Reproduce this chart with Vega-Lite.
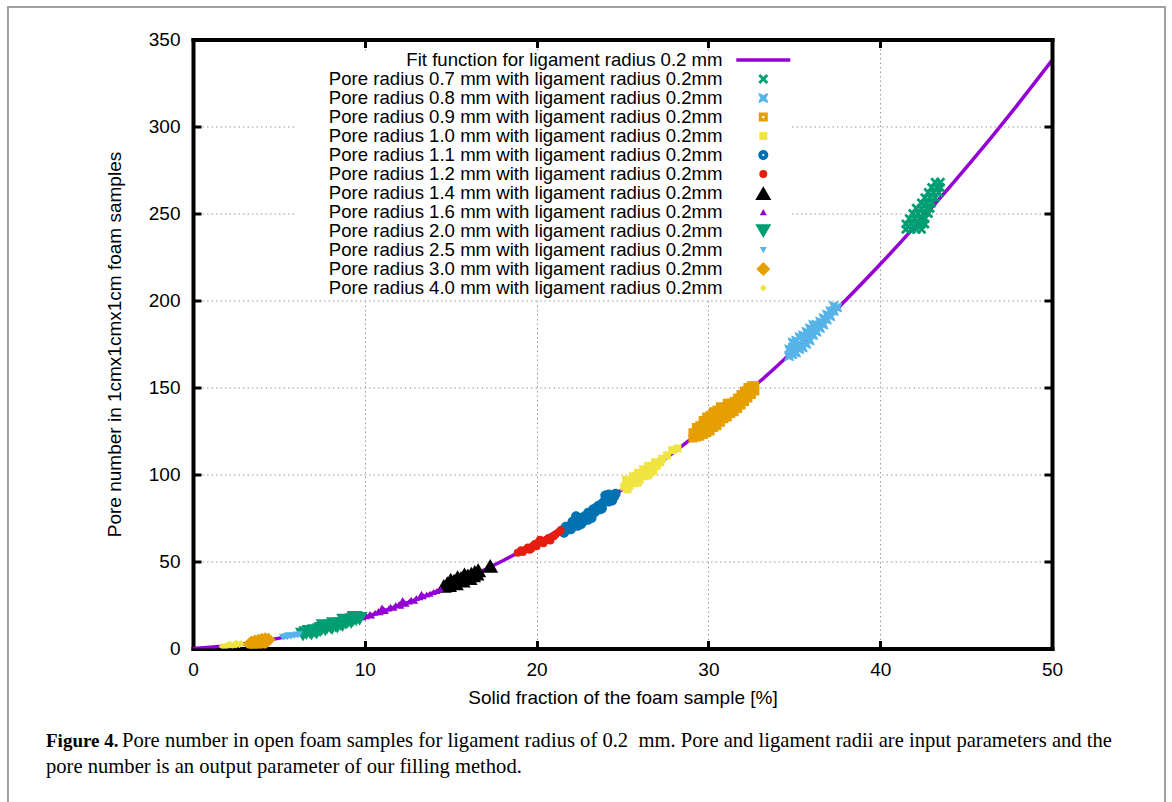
{
  "$schema": "https://vega.github.io/schema/vega-lite/v6.json",
  "width": 859,
  "height": 609,
  "padding": {"left": 193, "top": 39.5, "right": 120, "bottom": 153.5},
  "autosize": {"type": "none"},
  "background": "white",
  "config": {"view": {"stroke": null}, "font": "Liberation Sans"},
  "resolve": {"axis": {"x": "independent", "y": "independent"}},
  "layer": [
    {
      "data": {"values": [{"frame": "outer"}]},
      "mark": {"type": "rect", "filled": false, "fill": null, "stroke": "#a0a0a0", "strokeWidth": 2},
      "encoding": {
        "x": {"datum": -10.77, "type": "quantitative", "scale": {"domain": [0, 50], "nice": false}, "axis": null},
        "x2": {"datum": 56.58},
        "y": {"datum": 368.7, "type": "quantitative", "scale": {"domain": [0, 350], "nice": false}, "axis": null},
        "y2": {"datum": -100}
      }
    },
    {
      "data": {"values": [
        {"x": 0, "y": 0}, {"x": 2, "y": 1.62}, {"x": 4, "y": 4.22}, {"x": 6, "y": 7.82}, {"x": 8, "y": 12.42},
        {"x": 10, "y": 18.0}, {"x": 12, "y": 24.58}, {"x": 14, "y": 32.14}, {"x": 16, "y": 40.7}, {"x": 18, "y": 50.26},
        {"x": 20, "y": 60.8}, {"x": 22, "y": 72.34}, {"x": 24, "y": 84.86}, {"x": 26, "y": 98.38}, {"x": 28, "y": 112.9},
        {"x": 30, "y": 128.4}, {"x": 32, "y": 144.9}, {"x": 34, "y": 162.4}, {"x": 36, "y": 180.9}, {"x": 38, "y": 200.3},
        {"x": 40, "y": 220.8}, {"x": 42, "y": 242.3}, {"x": 44, "y": 264.7}, {"x": 46, "y": 288.1}, {"x": 48, "y": 312.6},
        {"x": 50, "y": 338.0}
      ]},
      "mark": {"type": "line", "stroke": "#9400d3", "strokeWidth": 3.5, "clip": true, "interpolate": "monotone"},
      "encoding": {
        "x": {"field": "x", "type": "quantitative", "scale": {"domain": [0, 50], "nice": false},
          "axis": {"orient": "bottom", "values": [0, 10, 20, 30, 40, 50], "format": "d",
            "title": "Solid fraction of the foam sample [%]",
            "grid": true, "gridColor": "#999999", "gridDash": [1.5, 3], "gridWidth": 1,
            "domainColor": "black", "domainWidth": 4, "domainCap": "square",
            "tickColor": "black", "tickWidth": 3, "tickSize": -8,
            "labelFont": "Liberation Sans", "labelFontSize": 19, "labelColor": "black", "labelPadding": 20, "labelFlush": false,
            "titleFont": "Liberation Sans", "titleFontSize": 19, "titleFontWeight": "normal", "titleColor": "black", "titlePadding": 9}},
        "y": {"field": "y", "type": "quantitative", "scale": {"domain": [0, 350], "nice": false},
          "axis": {"orient": "left", "values": [0, 50, 100, 150, 200, 250, 300, 350], "format": "d",
            "title": "Pore number in 1cmx1cmx1cm foam samples",
            "grid": true, "gridColor": "#999999", "gridDash": [1.5, 3], "gridWidth": 1,
            "domainColor": "black", "domainWidth": 4, "domainCap": "square",
            "tickColor": "black", "tickWidth": 3, "tickSize": -8,
            "labelFont": "Liberation Sans", "labelFontSize": 19, "labelColor": "black", "labelPadding": 21, "labelFlush": false,
            "titleFont": "Liberation Sans", "titleFontSize": 19, "titleFontWeight": "normal", "titleColor": "black", "titlePadding": 24}}
      }
    },
    {
      "data": {"values": [
        {"s": "0.7", "x": 41.5, "y": 241}, {"s": "0.7", "x": 41.8, "y": 241}, {"s": "0.7", "x": 42.1, "y": 241}, {"s": "0.7", "x": 42.4, "y": 241},
        {"s": "0.7", "x": 41.5, "y": 244}, {"s": "0.7", "x": 41.8, "y": 244}, {"s": "0.7", "x": 42.1, "y": 244}, {"s": "0.7", "x": 42.4, "y": 244}, {"s": "0.7", "x": 42.6, "y": 244},
        {"s": "0.7", "x": 41.7, "y": 247}, {"s": "0.7", "x": 42.0, "y": 247}, {"s": "0.7", "x": 42.3, "y": 247}, {"s": "0.7", "x": 42.6, "y": 247},
        {"s": "0.7", "x": 41.9, "y": 250}, {"s": "0.7", "x": 42.2, "y": 250}, {"s": "0.7", "x": 42.5, "y": 250}, {"s": "0.7", "x": 42.8, "y": 250},
        {"s": "0.7", "x": 42.1, "y": 253}, {"s": "0.7", "x": 42.4, "y": 253}, {"s": "0.7", "x": 42.7, "y": 253}, {"s": "0.7", "x": 42.9, "y": 253},
        {"s": "0.7", "x": 42.4, "y": 256}, {"s": "0.7", "x": 42.7, "y": 256}, {"s": "0.7", "x": 43.0, "y": 256},
        {"s": "0.7", "x": 42.6, "y": 259}, {"s": "0.7", "x": 42.9, "y": 259}, {"s": "0.7", "x": 43.2, "y": 259},
        {"s": "0.7", "x": 42.8, "y": 262}, {"s": "0.7", "x": 43.1, "y": 262}, {"s": "0.7", "x": 43.4, "y": 262},
        {"s": "0.7", "x": 43.0, "y": 265}, {"s": "0.7", "x": 43.3, "y": 265}, {"s": "0.7", "x": 43.5, "y": 265},
        {"s": "0.7", "x": 43.2, "y": 268}, {"s": "0.7", "x": 43.5, "y": 268},
        {"s": "0.8", "x": 34.7, "y": 168}, {"s": "0.8", "x": 34.7, "y": 172}, {"s": "0.8", "x": 34.9, "y": 169}, {"s": "0.8", "x": 34.9, "y": 173},
        {"s": "0.8", "x": 34.9, "y": 176}, {"s": "0.8", "x": 35.1, "y": 170}, {"s": "0.8", "x": 35.1, "y": 174}, {"s": "0.8", "x": 35.1, "y": 177},
        {"s": "0.8", "x": 35.3, "y": 172}, {"s": "0.8", "x": 35.3, "y": 175}, {"s": "0.8", "x": 35.3, "y": 179}, {"s": "0.8", "x": 35.5, "y": 173},
        {"s": "0.8", "x": 35.5, "y": 177}, {"s": "0.8", "x": 35.5, "y": 180}, {"s": "0.8", "x": 35.7, "y": 175}, {"s": "0.8", "x": 35.7, "y": 179},
        {"s": "0.8", "x": 35.7, "y": 182}, {"s": "0.8", "x": 35.9, "y": 177}, {"s": "0.8", "x": 35.9, "y": 181}, {"s": "0.8", "x": 35.9, "y": 184},
        {"s": "0.8", "x": 36.1, "y": 180}, {"s": "0.8", "x": 36.1, "y": 183}, {"s": "0.8", "x": 36.1, "y": 186}, {"s": "0.8", "x": 36.3, "y": 182},
        {"s": "0.8", "x": 36.3, "y": 186}, {"s": "0.8", "x": 36.5, "y": 184}, {"s": "0.8", "x": 36.5, "y": 188}, {"s": "0.8", "x": 36.7, "y": 186},
        {"s": "0.8", "x": 36.7, "y": 190}, {"s": "0.8", "x": 36.9, "y": 189}, {"s": "0.8", "x": 36.9, "y": 192}, {"s": "0.8", "x": 37.1, "y": 191},
        {"s": "0.8", "x": 37.1, "y": 194}, {"s": "0.8", "x": 37.3, "y": 194}, {"s": "0.8", "x": 37.3, "y": 197}, {"s": "0.8", "x": 37.5, "y": 196},
        {"s": "0.9", "x": 29.1, "y": 121}, {"s": "0.9", "x": 29.1, "y": 124}, {"s": "0.9", "x": 29.3, "y": 121.5}, {"s": "0.9", "x": 29.3, "y": 124.5},
        {"s": "0.9", "x": 29.3, "y": 127}, {"s": "0.9", "x": 29.5, "y": 122}, {"s": "0.9", "x": 29.5, "y": 125}, {"s": "0.9", "x": 29.5, "y": 128},
        {"s": "0.9", "x": 29.7, "y": 123}, {"s": "0.9", "x": 29.7, "y": 126}, {"s": "0.9", "x": 29.7, "y": 129}, {"s": "0.9", "x": 29.7, "y": 131},
        {"s": "0.9", "x": 29.9, "y": 124}, {"s": "0.9", "x": 29.9, "y": 127}, {"s": "0.9", "x": 29.9, "y": 130}, {"s": "0.9", "x": 29.9, "y": 133},
        {"s": "0.9", "x": 30.1, "y": 125}, {"s": "0.9", "x": 30.1, "y": 128}, {"s": "0.9", "x": 30.1, "y": 131}, {"s": "0.9", "x": 30.1, "y": 134},
        {"s": "0.9", "x": 30.3, "y": 127}, {"s": "0.9", "x": 30.3, "y": 130}, {"s": "0.9", "x": 30.3, "y": 133}, {"s": "0.9", "x": 30.3, "y": 136},
        {"s": "0.9", "x": 30.5, "y": 128}, {"s": "0.9", "x": 30.5, "y": 131}, {"s": "0.9", "x": 30.5, "y": 134}, {"s": "0.9", "x": 30.5, "y": 137},
        {"s": "0.9", "x": 30.7, "y": 130}, {"s": "0.9", "x": 30.7, "y": 133}, {"s": "0.9", "x": 30.7, "y": 136}, {"s": "0.9", "x": 30.7, "y": 139},
        {"s": "0.9", "x": 30.9, "y": 132}, {"s": "0.9", "x": 30.9, "y": 135}, {"s": "0.9", "x": 30.9, "y": 138}, {"s": "0.9", "x": 31.1, "y": 133},
        {"s": "0.9", "x": 31.1, "y": 136}, {"s": "0.9", "x": 31.1, "y": 139}, {"s": "0.9", "x": 31.1, "y": 141}, {"s": "0.9", "x": 31.3, "y": 135},
        {"s": "0.9", "x": 31.3, "y": 138}, {"s": "0.9", "x": 31.3, "y": 141}, {"s": "0.9", "x": 31.5, "y": 136}, {"s": "0.9", "x": 31.5, "y": 139},
        {"s": "0.9", "x": 31.5, "y": 142}, {"s": "0.9", "x": 31.7, "y": 138}, {"s": "0.9", "x": 31.7, "y": 141}, {"s": "0.9", "x": 31.7, "y": 144},
        {"s": "0.9", "x": 31.9, "y": 140}, {"s": "0.9", "x": 31.9, "y": 143}, {"s": "0.9", "x": 31.9, "y": 146}, {"s": "0.9", "x": 32.1, "y": 142},
        {"s": "0.9", "x": 32.1, "y": 145}, {"s": "0.9", "x": 32.1, "y": 148}, {"s": "0.9", "x": 32.3, "y": 144}, {"s": "0.9", "x": 32.3, "y": 147},
        {"s": "0.9", "x": 32.3, "y": 150}, {"s": "0.9", "x": 32.5, "y": 146}, {"s": "0.9", "x": 32.5, "y": 149}, {"s": "0.9", "x": 32.5, "y": 151},
        {"s": "0.9", "x": 32.7, "y": 148}, {"s": "0.9", "x": 32.7, "y": 151},
        {"s": "1.0", "x": 25.1, "y": 93}, {"s": "1.0", "x": 25.3, "y": 95}, {"s": "1.0", "x": 25.2, "y": 97}, {"s": "1.0", "x": 25.5, "y": 96},
        {"s": "1.0", "x": 25.6, "y": 99}, {"s": "1.0", "x": 25.8, "y": 98}, {"s": "1.0", "x": 25.9, "y": 101}, {"s": "1.0", "x": 26.1, "y": 100},
        {"s": "1.0", "x": 26.2, "y": 103}, {"s": "1.0", "x": 26.4, "y": 102}, {"s": "1.0", "x": 26.5, "y": 105}, {"s": "1.0", "x": 26.7, "y": 104},
        {"s": "1.0", "x": 26.9, "y": 107}, {"s": "1.0", "x": 27.3, "y": 109}, {"s": "1.0", "x": 27.9, "y": 114}, {"s": "1.0", "x": 28.2, "y": 115},
        {"s": "1.0", "x": 25.4, "y": 93.5}, {"s": "1.0", "x": 26.0, "y": 97}, {"s": "1.0", "x": 26.6, "y": 101},
        {"s": "1.0", "x": 25.3, "y": 91.5}, {"s": "1.0", "x": 25.7, "y": 95}, {"s": "1.0", "x": 26.3, "y": 99}, {"s": "1.0", "x": 26.8, "y": 102},
        {"s": "1.0", "x": 27.0, "y": 105}, {"s": "1.0", "x": 27.2, "y": 107}, {"s": "1.0", "x": 25.9, "y": 95.5}, {"s": "1.0", "x": 26.5, "y": 99.5},
        {"s": "1.0", "x": 27.6, "y": 111},
        {"s": "1.1", "x": 21.5, "y": 68}, {"s": "1.1", "x": 21.7, "y": 70}, {"s": "1.1", "x": 21.8, "y": 68.5}, {"s": "1.1", "x": 22.0, "y": 71},
        {"s": "1.1", "x": 22.1, "y": 73}, {"s": "1.1", "x": 22.2, "y": 71.5}, {"s": "1.1", "x": 22.4, "y": 74}, {"s": "1.1", "x": 22.5, "y": 72.5},
        {"s": "1.1", "x": 22.6, "y": 75}, {"s": "1.1", "x": 22.8, "y": 76}, {"s": "1.1", "x": 22.9, "y": 74.5}, {"s": "1.1", "x": 23.0, "y": 78},
        {"s": "1.1", "x": 23.1, "y": 77}, {"s": "1.1", "x": 23.3, "y": 80}, {"s": "1.1", "x": 23.4, "y": 78.5}, {"s": "1.1", "x": 23.5, "y": 81},
        {"s": "1.1", "x": 23.7, "y": 80}, {"s": "1.1", "x": 23.8, "y": 83}, {"s": "1.1", "x": 23.9, "y": 84}, {"s": "1.1", "x": 24.0, "y": 85},
        {"s": "1.1", "x": 24.1, "y": 86.5}, {"s": "1.1", "x": 24.2, "y": 84.5}, {"s": "1.1", "x": 24.3, "y": 87}, {"s": "1.1", "x": 24.4, "y": 88},
        {"s": "1.1", "x": 24.5, "y": 87}, {"s": "1.1", "x": 24.2, "y": 88.5}, {"s": "1.1", "x": 22.3, "y": 76}, {"s": "1.1", "x": 22.7, "y": 73},
        {"s": "1.1", "x": 23.2, "y": 76.5}, {"s": "1.1", "x": 23.6, "y": 82},
        {"s": "1.1", "x": 21.6, "y": 66.5}, {"s": "1.1", "x": 22.0, "y": 68.5}, {"s": "1.1", "x": 22.6, "y": 71.5}, {"s": "1.1", "x": 23.2, "y": 75},
        {"s": "1.1", "x": 23.8, "y": 80.5}, {"s": "1.1", "x": 24.4, "y": 85}, {"s": "1.1", "x": 24.6, "y": 89}, {"s": "1.1", "x": 24.0, "y": 88},
        {"s": "1.1", "x": 22.4, "y": 70.5}, {"s": "1.1", "x": 23.0, "y": 74},
        {"s": "1.2", "x": 18.9, "y": 55}, {"s": "1.2", "x": 19.1, "y": 56.5}, {"s": "1.2", "x": 19.2, "y": 55.5}, {"s": "1.2", "x": 19.4, "y": 57},
        {"s": "1.2", "x": 19.5, "y": 58}, {"s": "1.2", "x": 19.6, "y": 56.8}, {"s": "1.2", "x": 19.8, "y": 59}, {"s": "1.2", "x": 19.9, "y": 60},
        {"s": "1.2", "x": 20.0, "y": 58.8}, {"s": "1.2", "x": 20.1, "y": 61}, {"s": "1.2", "x": 20.3, "y": 61.5}, {"s": "1.2", "x": 20.4, "y": 60.5},
        {"s": "1.2", "x": 20.6, "y": 62.5}, {"s": "1.2", "x": 20.7, "y": 63.5}, {"s": "1.2", "x": 20.8, "y": 62}, {"s": "1.2", "x": 21.0, "y": 64.5},
        {"s": "1.2", "x": 21.1, "y": 65.5}, {"s": "1.2", "x": 21.3, "y": 67}, {"s": "1.2", "x": 21.4, "y": 68}, {"s": "1.2", "x": 20.2, "y": 62.5},
        {"s": "1.2", "x": 19.7, "y": 57.5},
        {"s": "1.4", "x": 14.6, "y": 36}, {"s": "1.4", "x": 14.8, "y": 37.5}, {"s": "1.4", "x": 14.9, "y": 36.5}, {"s": "1.4", "x": 15.1, "y": 38},
        {"s": "1.4", "x": 15.2, "y": 39}, {"s": "1.4", "x": 15.3, "y": 37.5}, {"s": "1.4", "x": 15.5, "y": 39.5}, {"s": "1.4", "x": 15.6, "y": 40.5},
        {"s": "1.4", "x": 15.7, "y": 39}, {"s": "1.4", "x": 15.9, "y": 41}, {"s": "1.4", "x": 16.0, "y": 42}, {"s": "1.4", "x": 16.1, "y": 40.5},
        {"s": "1.4", "x": 16.2, "y": 43}, {"s": "1.4", "x": 16.3, "y": 42}, {"s": "1.4", "x": 16.4, "y": 44}, {"s": "1.4", "x": 16.5, "y": 43},
        {"s": "1.4", "x": 16.6, "y": 45}, {"s": "1.4", "x": 17.3, "y": 47.5}, {"s": "1.4", "x": 15.4, "y": 41}, {"s": "1.4", "x": 15.8, "y": 42.5},
        {"s": "1.4", "x": 15.0, "y": 39.5},
        {"s": "1.6", "x": 9.9, "y": 18}, {"s": "1.6", "x": 10.1, "y": 18.5}, {"s": "1.6", "x": 10.3, "y": 19.8}, {"s": "1.6", "x": 10.4, "y": 19},
        {"s": "1.6", "x": 10.6, "y": 20.5}, {"s": "1.6", "x": 10.8, "y": 21.5}, {"s": "1.6", "x": 10.9, "y": 20.8}, {"s": "1.6", "x": 11.1, "y": 22.5},
        {"s": "1.6", "x": 11.2, "y": 21.5}, {"s": "1.6", "x": 11.4, "y": 23}, {"s": "1.6", "x": 11.5, "y": 24}, {"s": "1.6", "x": 11.7, "y": 23.5},
        {"s": "1.6", "x": 11.8, "y": 25}, {"s": "1.6", "x": 12.0, "y": 25.5}, {"s": "1.6", "x": 12.1, "y": 24.6}, {"s": "1.6", "x": 12.3, "y": 26.5},
        {"s": "1.6", "x": 12.4, "y": 25.8}, {"s": "1.6", "x": 12.6, "y": 27}, {"s": "1.6", "x": 12.7, "y": 28}, {"s": "1.6", "x": 12.9, "y": 27.5},
        {"s": "1.6", "x": 13.0, "y": 29}, {"s": "1.6", "x": 13.2, "y": 29.5}, {"s": "1.6", "x": 13.4, "y": 30}, {"s": "1.6", "x": 13.6, "y": 31},
        {"s": "1.6", "x": 13.8, "y": 31.5}, {"s": "1.6", "x": 14.0, "y": 32.5}, {"s": "1.6", "x": 14.2, "y": 33}, {"s": "1.6", "x": 14.4, "y": 34},
        {"s": "1.6", "x": 11.0, "y": 23.5}, {"s": "1.6", "x": 12.2, "y": 27.8}, {"s": "1.6", "x": 13.3, "y": 31.5},
        {"s": "2.0", "x": 6.4, "y": 8}, {"s": "2.0", "x": 6.6, "y": 8.8}, {"s": "2.0", "x": 6.8, "y": 9.5}, {"s": "2.0", "x": 6.9, "y": 8.6},
        {"s": "2.0", "x": 7.1, "y": 10}, {"s": "2.0", "x": 7.2, "y": 9.2}, {"s": "2.0", "x": 7.4, "y": 10.5}, {"s": "2.0", "x": 7.5, "y": 11.3},
        {"s": "2.0", "x": 7.7, "y": 11}, {"s": "2.0", "x": 7.8, "y": 12}, {"s": "2.0", "x": 8.0, "y": 12.5}, {"s": "2.0", "x": 8.1, "y": 11.8},
        {"s": "2.0", "x": 8.3, "y": 13.2}, {"s": "2.0", "x": 8.4, "y": 12.6}, {"s": "2.0", "x": 8.6, "y": 14}, {"s": "2.0", "x": 8.7, "y": 13.5},
        {"s": "2.0", "x": 8.9, "y": 14.8}, {"s": "2.0", "x": 9.0, "y": 15.5}, {"s": "2.0", "x": 9.2, "y": 15.2}, {"s": "2.0", "x": 9.3, "y": 16.3},
        {"s": "2.0", "x": 9.5, "y": 16.8}, {"s": "2.0", "x": 9.7, "y": 17}, {"s": "2.0", "x": 8.2, "y": 14}, {"s": "2.0", "x": 7.6, "y": 12.8},
        {"s": "2.0", "x": 8.8, "y": 16}, {"s": "2.0", "x": 9.4, "y": 17.5},
        {"s": "2.5", "x": 5.3, "y": 6.2}, {"s": "2.5", "x": 5.4, "y": 7}, {"s": "2.5", "x": 5.5, "y": 6.5}, {"s": "2.5", "x": 5.6, "y": 7.3},
        {"s": "2.5", "x": 5.7, "y": 6.8}, {"s": "2.5", "x": 5.8, "y": 7.6}, {"s": "2.5", "x": 5.9, "y": 7.2}, {"s": "2.5", "x": 6.0, "y": 8},
        {"s": "2.5", "x": 6.1, "y": 7.5}, {"s": "2.5", "x": 6.2, "y": 8.2}, {"s": "2.5", "x": 5.2, "y": 6.8}, {"s": "2.5", "x": 5.5, "y": 7.6},
        {"s": "3.0", "x": 3.3, "y": 2.5}, {"s": "3.0", "x": 3.4, "y": 3.5}, {"s": "3.0", "x": 3.5, "y": 2.8}, {"s": "3.0", "x": 3.6, "y": 4},
        {"s": "3.0", "x": 3.7, "y": 3.2}, {"s": "3.0", "x": 3.8, "y": 4.5}, {"s": "3.0", "x": 3.9, "y": 3.6}, {"s": "3.0", "x": 4.0, "y": 5},
        {"s": "3.0", "x": 4.1, "y": 4.2}, {"s": "3.0", "x": 4.2, "y": 5.3}, {"s": "3.0", "x": 4.3, "y": 4.6}, {"s": "3.0", "x": 4.4, "y": 5},
        {"s": "3.0", "x": 3.5, "y": 1.8}, {"s": "3.0", "x": 3.9, "y": 2.3}, {"s": "3.0", "x": 4.2, "y": 3.3},
        {"s": "4.0", "x": 1.7, "y": 1.2}, {"s": "4.0", "x": 1.9, "y": 1.6}, {"s": "4.0", "x": 2.0, "y": 1.1}, {"s": "4.0", "x": 2.2, "y": 2},
        {"s": "4.0", "x": 2.3, "y": 1.5}, {"s": "4.0", "x": 2.4, "y": 2.3}, {"s": "4.0", "x": 2.5, "y": 1.9}, {"s": "4.0", "x": 2.6, "y": 2.6},
        {"s": "4.0", "x": 2.7, "y": 2.2}, {"s": "4.0", "x": 2.8, "y": 2.8}, {"s": "4.0", "x": 2.1, "y": 2.6}, {"s": "4.0", "x": 2.5, "y": 3.0},
        {"s": "4.0", "x": 1.8, "y": 0.8}
      ]},
      "mark": {"type": "point", "filled": true, "opacity": 1, "strokeWidth": 0, "clip": true},
      "encoding": {
        "x": {"field": "x", "type": "quantitative", "scale": {"domain": [0, 50], "nice": false},
          "axis": {"orient": "top", "values": [0, 10, 20, 30, 40, 50], "labels": false, "grid": false, "title": null,
            "domainColor": "black", "domainWidth": 4, "domainCap": "square",
            "tickColor": "black", "tickWidth": 3, "tickSize": -8, "zindex": 1}},
        "y": {"field": "y", "type": "quantitative", "scale": {"domain": [0, 350], "nice": false},
          "axis": {"orient": "right", "values": [0, 50, 100, 150, 200, 250, 300, 350], "labels": false, "grid": false, "title": null,
            "domainColor": "black", "domainWidth": 4, "domainCap": "square",
            "tickColor": "black", "tickWidth": 3, "tickSize": -8, "zindex": 1}},
        "color": {"field": "s", "type": "nominal",
          "scale": {"domain": ["fit", "0.7", "0.8", "0.9", "1.0", "1.1", "1.2", "1.4", "1.6", "2.0", "2.5", "3.0", "4.0"],
            "range": ["#9400d3", "#009e73", "#56b4e9", "#e69f00", "#f0e442", "#0072b2", "#e51e10", "#000000", "#9400d3", "#009e73", "#56b4e9", "#e69f00", "#f0e442"]},
          "legend": {"title": null, "orient": "none", "legendX": 103, "legendY": 11.3,
            "labelExpr": "datum.label == 'fit' ? 'Fit function for ligament radius 0.2 mm' : 'Pore radius ' + datum.label + ' mm with ligament radius 0.2mm'",
            "labelAlign": "right", "labelOffset": -50, "symbolOffset": 458, "labelLimit": 1000,
            "labelFont": "Liberation Sans", "labelFontSize": 18.6, "labelColor": "black",
            "rowPadding": 0, "padding": 0, "fillColor": "white", "symbolStrokeWidth": 0, "symbolOpacity": 1}},
        "shape": {"field": "s", "type": "nominal",
          "scale": {"domain": ["fit", "0.7", "0.8", "0.9", "1.0", "1.1", "1.2", "1.4", "1.6", "2.0", "2.5", "3.0", "4.0"],
            "range": [
              "M-5.4,-0.35H5.4V0.35H-5.4Z",
              "M-1,-0.6L-0.6,-1L0,-0.4L0.6,-1L1,-0.6L0.4,0L1,0.6L0.6,1L0,0.4L-0.6,1L-1,0.6L-0.4,0Z",
              "M-1,-1L-0.35,-0.8L0,-0.55L0.35,-0.8L1,-1L0.8,-0.35L0.55,0L0.8,0.35L1,1L0.35,0.8L0,0.55L-0.35,0.8L-1,1L-0.8,0.35L-0.55,0L-0.8,-0.35Z",
              "M-1,-1H1V1H-1Z M-0.25,-0.25V0.25H0.25V-0.25Z",
              "square",
              "M-1,0A1,1 0 1,0 1,0A1,1 0 1,0 -1,0Z M-0.22,0A0.22,0.22 0 1,1 0.22,0A0.22,0.22 0 1,1 -0.22,0Z",
              "circle", "triangle-up", "triangle-up", "triangle-down", "triangle-down", "diamond", "diamond"]}},
        "size": {"field": "s", "type": "nominal",
          "scale": {"type": "ordinal", "domain": ["fit", "0.7", "0.8", "0.9", "1.0", "1.1", "1.2", "1.4", "1.6", "2.0", "2.5", "3.0", "4.0"],
            "range": [100, 100, 100, 81, 64, 100, 64, 256, 49, 256, 49, 196, 49]}}
      }
    },
    {
      "data": {"values": [{"t": "Figure 4."}]},
      "mark": {"type": "text", "font": "Liberation Serif", "fontSize": 19, "fontWeight": "bold", "align": "left", "baseline": "middle", "color": "black"},
      "encoding": {
        "x": {"datum": -8.556, "type": "quantitative", "scale": {"domain": [0, 50], "nice": false}, "axis": null},
        "y": {"datum": -53.16, "type": "quantitative", "scale": {"domain": [0, 350], "nice": false}, "axis": null},
        "text": {"field": "t"}
      }
    },
    {
      "data": {"values": [{"t": "Pore number in open foam samples for ligament radius of 0.2\u2002mm. Pore and ligament radii are input parameters and the"}]},
      "mark": {"type": "text", "font": "Liberation Serif", "fontSize": 20.6, "align": "left", "baseline": "middle", "color": "black"},
      "encoding": {
        "x": {"datum": -4.133, "type": "quantitative", "scale": {"domain": [0, 50], "nice": false}, "axis": null},
        "y": {"datum": -53.16, "type": "quantitative", "scale": {"domain": [0, 350], "nice": false}, "axis": null},
        "text": {"field": "t"}
      }
    },
    {
      "data": {"values": [{"t": "pore number is an output parameter of our filling method."}]},
      "mark": {"type": "text", "font": "Liberation Serif", "fontSize": 20.6, "align": "left", "baseline": "middle", "color": "black"},
      "encoding": {
        "x": {"datum": -8.556, "type": "quantitative", "scale": {"domain": [0, 50], "nice": false}, "axis": null},
        "y": {"datum": -68.1, "type": "quantitative", "scale": {"domain": [0, 350], "nice": false}, "axis": null},
        "text": {"field": "t"}
      }
    }
  ]
}
